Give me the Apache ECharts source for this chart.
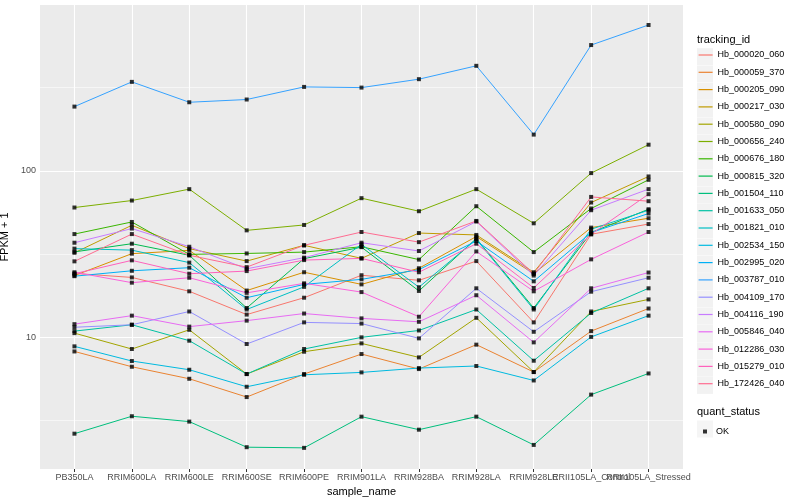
<!DOCTYPE html>
<html>
<head>
<meta charset="utf-8">
<script src="https://cdn.jsdelivr.net/npm/echarts@6/dist/echarts.min.js"></script>
<style>
  html, body { margin: 0; padding: 0; background: #ffffff; }
  #chart { width: 800px; height: 500px; }
</style>
</head>
<body>
<div id="chart"></div>
<script>
// ---------- data ----------
const categories = ['PB350LA','RRIM600LA','RRIM600LE','RRIM600SE','RRIM600PE','RRIM901LA','RRIM928BA','RRIM928LA','RRIM928LE','RRII105LA_Control','RRII105LA_Stressed'];
const trackingIds = ['Hb_000020_060','Hb_000059_370','Hb_000205_090','Hb_000217_030','Hb_000580_090','Hb_000656_240','Hb_000676_180','Hb_000815_320','Hb_001504_110','Hb_001633_050','Hb_001821_010','Hb_002534_150','Hb_002995_020','Hb_003787_010','Hb_004109_170','Hb_004116_190','Hb_005846_040','Hb_012286_030','Hb_015279_010','Hb_172426_040'];

const hb_000020_060 = [24.2, 22.9, 18.9, 13.7, 17.3, 23.6, 22.0, 28.7, 12.3, 41.6, 47.9];
const hb_000059_370 = [8.23, 6.66, 5.64, 4.38, 6.02, 7.94, 6.45, 9.04, 6.19, 10.9, 14.9];
const hb_000205_090 = [23.5, 31.8, 33.3, 19.1, 24.6, 20.8, 26.0, 40.3, 24.1, 45.6, 51.9];
const hb_000217_030 = [32.2, 47.1, 34.1, 28.7, 35.7, 29.8, 42.3, 41.2, 24.6, 64.5, 92.5];
const hb_000580_090 = [10.6, 8.51, 11.1, 6.02, 8.20, 9.20, 7.58, 13.1, 6.19, 14.3, 16.9];
const hb_000656_240 = [60.2, 66.3, 77.6, 43.9, 47.3, 68.5, 57.2, 77.6, 48.4, 96.9, 143.5];
const hb_000676_180 = [41.7, 49.3, 31.5, 31.9, 32.5, 35.0, 29.3, 61.3, 32.5, 59.4, 88.3];
const hb_000815_320 = [32.6, 36.5, 31.1, 15.0, 29.7, 34.8, 19.0, 39.2, 15.0, 42.6, 58.8];
const hb_001504_110 = [2.64, 3.36, 3.12, 2.19, 2.17, 3.34, 2.79, 3.34, 2.26, 4.53, 6.07];
const hb_001633_050 = [10.9, 11.9, 9.55, 6.02, 8.51, 10.0, 11.0, 14.7, 7.24, 14.0, 19.7];
const hb_001821_010 = [34.1, 33.4, 28.1, 14.7, 20.1, 36.2, 20.0, 38.8, 14.7, 44.6, 58.0];
const hb_002534_150 = [8.83, 7.21, 6.39, 5.05, 5.96, 6.16, 6.54, 6.73, 5.51, 10.06, 13.5];
const hb_002995_020 = [23.3, 25.1, 26.2, 17.3, 20.8, 22.3, 25.5, 37.9, 21.7, 42.6, 55.4];
const hb_003787_010 = [243, 342, 258, 268, 319, 316, 355, 427, 165, 569, 751];
const hb_004109_170 = [11.5, 11.9, 14.3, 9.12, 12.3, 12.1, 9.86, 19.7, 10.8, 18.8, 22.8];
const hb_004116_190 = [37.0, 45.0, 35.0, 25.8, 30.1, 37.0, 33.0, 49.6, 23.5, 58.0, 77.6];
const hb_005846_040 = [12.0, 13.5, 11.6, 12.6, 13.9, 13.0, 12.4, 17.9, 9.33, 19.7, 24.5];
const hb_012286_030 = [24.6, 21.3, 22.8, 18.5, 21.1, 18.7, 13.3, 32.8, 18.9, 29.4, 42.9];
const hb_015279_010 = [24.1, 29.0, 24.1, 25.0, 29.1, 29.8, 24.6, 36.5, 19.8, 41.6, 72.4];
const hb_172426_040 = [28.6, 41.7, 31.1, 26.4, 35.7, 42.9, 37.3, 50.0, 24.1, 69.7, 65.7];

const seriesValues = [hb_000020_060, hb_000059_370, hb_000205_090, hb_000217_030, hb_000580_090, hb_000656_240, hb_000676_180, hb_000815_320, hb_001504_110, hb_001633_050, hb_001821_010, hb_002534_150, hb_002995_020, hb_003787_010, hb_004109_170, hb_004116_190, hb_005846_040, hb_012286_030, hb_015279_010, hb_172426_040];

const quantStatus = 'OK';
const yTickLabels = [10, 100];
const yMinorBreaks = [3.1623, 31.623, 316.23];
const yLimits = [1.62, 990];

// ---------- style ----------
const palette = ["#F8766D","#EA8331","#D89000","#C09B00","#A3A500","#7CAE00","#39B600","#00BB4E","#00BF7D","#00C1A3","#00BFC4","#00BAE0","#00B0F6","#35A2FF","#9590FF","#C77CFF","#E76BF3","#FA62DB","#FF62BC","#FF6C91"];
const FONT = '"Liberation Sans", Arial, Helvetica, sans-serif';
const catIdx = categories.map((c, i) => i);
const crowdedIdx = [categories.length - 2];                   // label drawn by the second x axis
const mainIdx = catIdx.filter(i => crowdedIdx.indexOf(i) < 0);

const lineSeries = trackingIds.map((id, k) => ({
  name: id,
  type: 'line',
  symbol: 'none',
  color: palette[k],
  lineStyle: { width: 1, color: palette[k] },
  data: seriesValues[k].map((v, i) => [i, v]),
  z: 3,
  silent: true
}));

const pointData = [];
seriesValues.forEach(vals => vals.forEach((v, i) => pointData.push([i, v])));

const xLabelStyle = { color: '#4D4D4D', fontSize: 9, margin: 4, fontFamily: FONT,
                      showMinLabel: true, showMaxLabel: true, hideOverlap: false,
                      formatter: v => categories[Math.round(v)] };

const option = {
  animation: false,
  backgroundColor: '#ffffff',
  textStyle: { fontFamily: FONT },
  grid: { left: 40, right: 117, top: 5, bottom: 31, show: true, backgroundColor: '#EBEBEB', borderWidth: 0,
          containLabel: false, outerBoundsMode: 'none' },
  title: [
    { text: 'tracking_id', left: 697, top: 34, padding: 0, textStyle: { fontSize: 11, fontWeight: 'normal', color: '#000', fontFamily: FONT } },
    { text: 'quant_status', left: 697, top: 406, padding: 0, textStyle: { fontSize: 11, fontWeight: 'normal', color: '#000', fontFamily: FONT } }
  ],
  legend: [
    { data: trackingIds.map(n => ({ name: n, icon: 'rect', itemStyle: { color: '#F2F2F2' } })),
      orient: 'vertical', left: 697, top: 48.2, padding: 0, itemWidth: 16, itemHeight: 17, itemGap: 0.3,
      textStyle: { color: 'rgba(0,0,0,0)', fontSize: 9 }, selectedMode: false, z: 1 },
    { data: trackingIds, orient: 'vertical', left: 698, top: 48.2, padding: 0, itemWidth: 14, itemHeight: 17, itemGap: 3.7,
      itemStyle: { opacity: 0 }, lineStyle: { width: 1.2 },
      textStyle: { color: '#000', fontSize: 9, fontFamily: FONT }, selectedMode: false, z: 2 },
    { data: [{ name: quantStatus, icon: 'rect', itemStyle: { color: '#F2F2F2' } }], left: 697, top: 420.5, padding: 0,
      itemWidth: 16, itemHeight: 17, textStyle: { color: 'rgba(0,0,0,0)', fontSize: 9 }, selectedMode: false, z: 1 },
    { data: [quantStatus], left: 703, top: 427, padding: 0, itemWidth: 4, itemHeight: 4,
      textStyle: { color: '#000', fontSize: 9, fontFamily: FONT, padding: [0, 0, 0, 4] }, selectedMode: false, z: 2 }
  ],
  xAxis: [
    {
      type: 'value', min: -0.6, max: 10.6, position: 'bottom',
      axisLine: { show: false },
      axisTick: { show: true, customValues: catIdx, length: 3, lineStyle: { color: '#333333', width: 1 } },
      axisLabel: Object.assign({ customValues: mainIdx }, xLabelStyle),
      splitLine: { show: false },
      name: 'sample_name', nameLocation: 'middle', nameGap: 14,
      nameTextStyle: { fontSize: 11, color: '#000', fontFamily: FONT }
    },
    {
      type: 'value', min: -0.6, max: 10.6, position: 'bottom', offset: 0,
      axisLine: { show: false }, axisTick: { show: false }, splitLine: { show: false },
      axisLabel: Object.assign({ customValues: crowdedIdx }, xLabelStyle)
    }
  ],
  yAxis: {
    type: 'log', logBase: 10, min: yLimits[0], max: yLimits[1],
    axisLine: { show: false },
    axisTick: { show: true, customValues: yTickLabels, length: 3, lineStyle: { color: '#333333', width: 1 } },
    axisLabel: { formatter: v => { const r = Math.round(v); return yTickLabels.indexOf(r) >= 0 ? String(r) : ''; },
                 color: '#4D4D4D', fontSize: 9, margin: 4, fontFamily: FONT },
    splitLine: { show: false },
    name: 'FPKM + 1', nameLocation: 'middle', nameGap: 23, nameRotate: 90,
    nameTextStyle: { fontSize: 11, color: '#000', fontFamily: FONT }
  },
  series: [
    { name: '_minor', type: 'line', data: [], z: 1, silent: true,
      markLine: { silent: true, z: 1, symbol: 'none', animation: false, label: { show: false },
                  lineStyle: { color: '#ffffff', width: 0.55, type: 'solid' },
                  data: yMinorBreaks.map(v => ({ yAxis: v })) } },
    { name: '_major', type: 'line', data: [], z: 1, silent: true,
      markLine: { silent: true, z: 1, symbol: 'none', animation: false, label: { show: false },
                  lineStyle: { color: '#ffffff', width: 1.1, type: 'solid' },
                  data: yTickLabels.map(v => ({ yAxis: v })).concat(catIdx.map(i => ({ xAxis: i }))) } }
  ].concat(lineSeries).concat([
    { name: quantStatus, type: 'scatter', symbol: 'rect', symbolSize: 4, color: '#000000',
      itemStyle: { color: '#000000' }, data: pointData, z: 4, silent: true }
  ])
};

const chart = echarts.init(document.getElementById('chart'), null, { renderer: 'canvas' });
chart.setOption(option);
</script>
</body>
</html>
